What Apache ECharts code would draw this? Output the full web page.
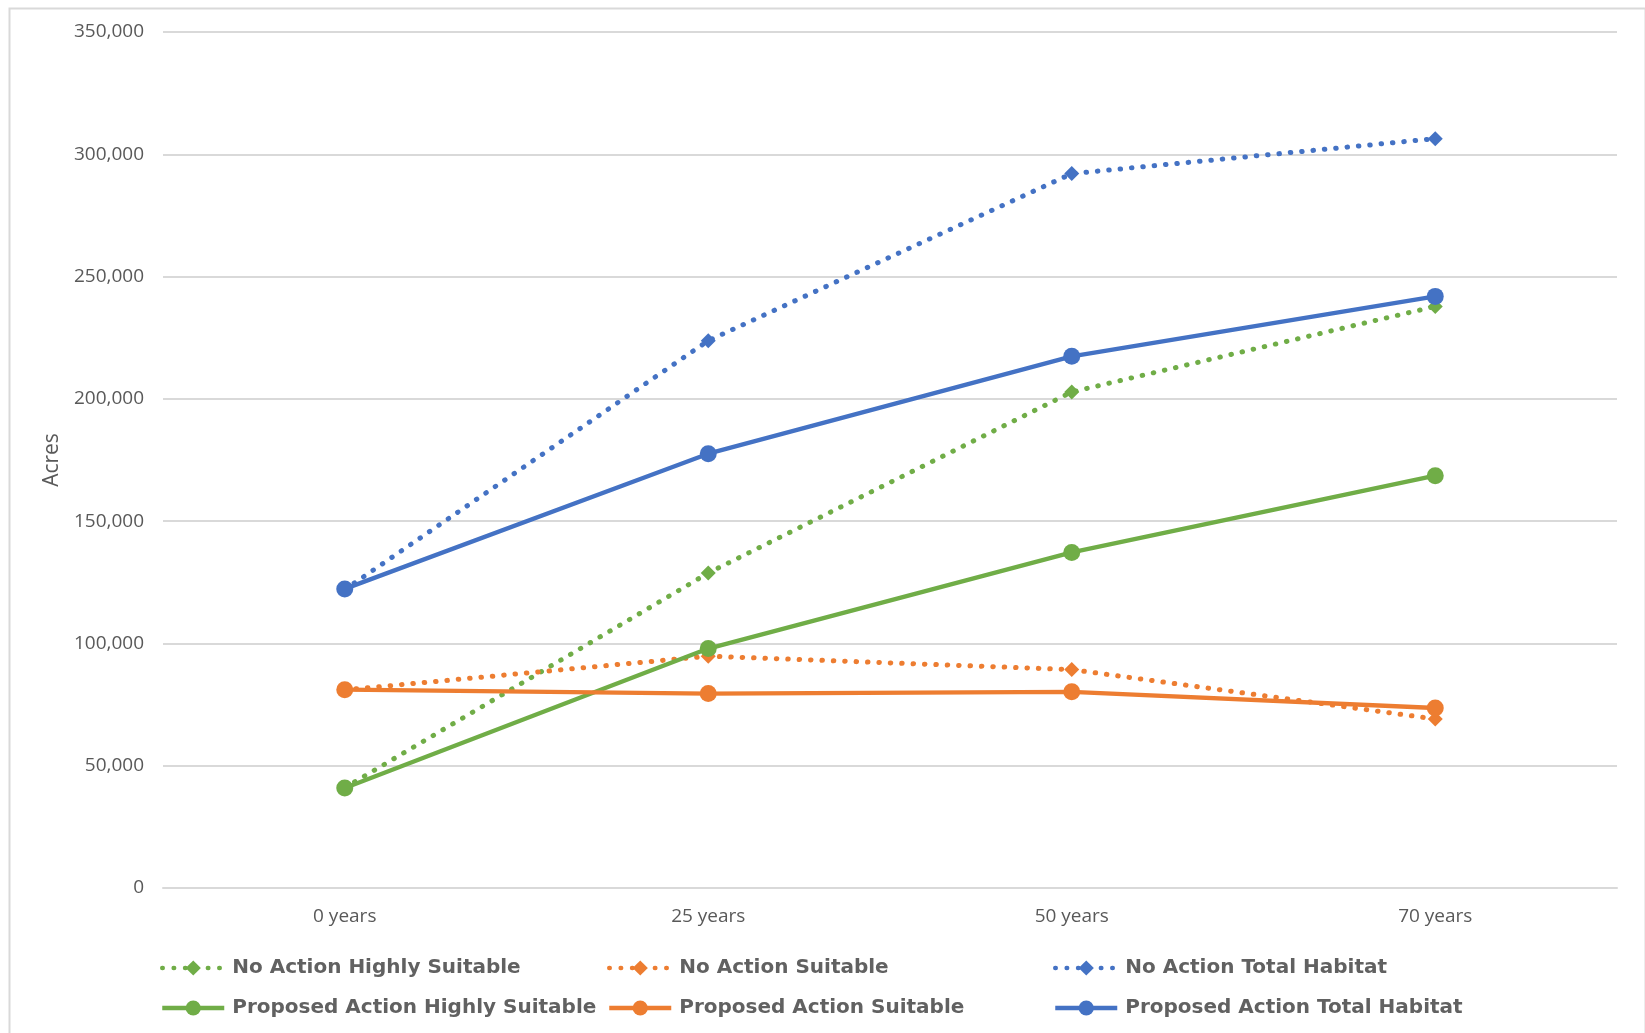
<!DOCTYPE html>
<html>
<head>
<meta charset="utf-8">
<script src="https://cdn.jsdelivr.net/npm/echarts@6/dist/echarts.min.js"></script>
<style>
  html, body { margin: 0; padding: 0; background: #ffffff; }
  #chart { width: 1645px; height: 1033px; }
</style>
</head>
<body>
<div id="chart"></div>
<script>
// Habitat acreage over time, by alternative
const categories = ['0 years', '25 years', '50 years', '70 years'];
const naHighly   = [41000, 128800, 202800, 237800];
const naSuitable = [81000, 94800, 89300, 69100];
const naTotal    = [122000, 223800, 292100, 306400];
const paHighly   = [40900, 97900, 137200, 168600];
const paSuitable = [81100, 79500, 80200, 73600];
const paTotal    = [122300, 177600, 217400, 241900];

const BLUE = '#4472C4', ORANGE = '#ED7D31', GREEN = '#70AD47';
const TEXT = '#595959';
const DOT = [0.5, 10.9];

function dotted(name, data, color) {
  return {
    name, type: 'line', data,
    symbol: 'diamond', symbolSize: 15,
    itemStyle: { color },
    lineStyle: { color, width: 5, type: DOT, cap: 'round' },
    z: 2
  };
}
function solid(name, data, color) {
  return {
    name, type: 'line', data,
    symbol: 'circle', symbolSize: 17,
    itemStyle: { color },
    lineStyle: { color, width: 4.3, type: 'solid' },
    z: 3
  };
}

const legendText = { fontFamily: 'DejaVu Sans', fontWeight: 'bold', fontSize: 20, color: '#616161', lineHeight: 24, padding: [0, 0, 0, 3] };
function legendCol(left, names) {
  return {
    orient: 'vertical', left, top: 956, padding: 0,
    itemWidth: 62, itemHeight: 19, itemGap: 16,
    lineStyle: { width: 4.5 },
    textStyle: legendText,
    data: names
  };
}

const chart = echarts.init(document.getElementById('chart'), null, { renderer: 'canvas' });
chart.setOption({
  animation: false,
  backgroundColor: '#ffffff',
  grid: { left: 163, right: 28, top: 32, bottom: 145, containLabel: false },
  graphic: [{
    type: 'rect', left: 7, top: 6, z: -1,
    shape: { width: 1636, height: 1100 },
    style: { fill: 'none', stroke: '#d9d9d9', lineWidth: 2 }
  }],
  legend: [
    legendCol(160, ['No Action Highly Suitable', 'Proposed Action Highly Suitable']),
    legendCol(607, ['No Action Suitable', 'Proposed Action Suitable']),
    legendCol(1053, ['No Action Total Habitat', 'Proposed Action Total Habitat'])
  ],
  xAxis: {
    type: 'category', data: categories, boundaryGap: true,
    axisLine: { show: true, lineStyle: { color: '#d9d9d9', width: 2 } },
    axisTick: { show: false },
    axisLabel: { color: TEXT, fontFamily: 'Open Sans', fontSize: 19, margin: 19 }
  },
  yAxis: {
    type: 'value', min: 0, max: 350000, interval: 50000,
    name: 'Acres', nameLocation: 'middle', nameGap: 97, nameRotate: 90,
    nameTextStyle: { color: TEXT, fontFamily: 'Open Sans', fontSize: 21 },
    axisLine: { show: false },
    axisTick: { show: false },
    axisLabel: {
      color: TEXT, fontFamily: 'Open Sans', fontSize: 19, margin: 19,
      formatter: v => v.toLocaleString('en-US')
    },
    splitLine: { lineStyle: { color: '#d9d9d9', width: 2 } }
  },
  series: [
    dotted('No Action Highly Suitable', naHighly, GREEN),
    dotted('No Action Suitable', naSuitable, ORANGE),
    dotted('No Action Total Habitat', naTotal, BLUE),
    solid('Proposed Action Highly Suitable', paHighly, GREEN),
    solid('Proposed Action Suitable', paSuitable, ORANGE),
    solid('Proposed Action Total Habitat', paTotal, BLUE)
  ]
});
</script>
</body>
</html>
